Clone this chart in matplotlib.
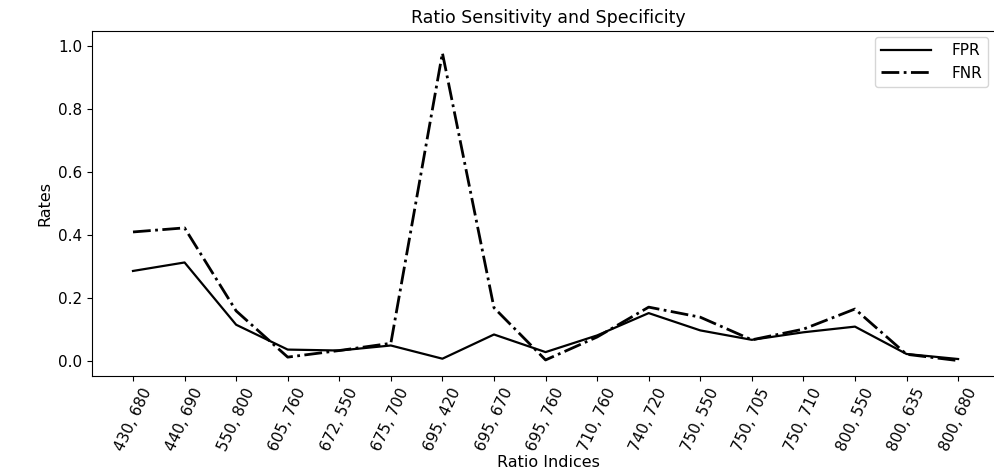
import numpy as np
import matplotlib
matplotlib.use('Agg')
import matplotlib.pyplot as plt

# pares de indices de las razones
ratio_labels = ['430, 680', '440, 690', '550, 800', '605, 760', '672, 550',
                '675, 700', '695, 420', '695, 670', '695, 760', '710, 760',
                '740, 720', '750, 550', '750, 705', '750, 710', '800, 550',
                '800, 635', '800, 680']
fpr = [0.285, 0.312, 0.114, 0.035, 0.032, 0.048, 0.006, 0.083, 0.027,
       0.080, 0.151, 0.096, 0.066, 0.090, 0.108, 0.021, 0.005]
fnr = [0.409, 0.422, 0.158, 0.011, 0.032, 0.055, 0.978, 0.168, 0.002,
       0.075, 0.170, 0.138, 0.066, 0.100, 0.164, 0.020, 0.000]

fig = plt.figure(figsize=(9.95, 4.72), dpi=100)
ax = fig.add_axes([92 / 995, 96 / 472, 912 / 995, 345 / 472])

x = np.arange(len(ratio_labels))
ax.plot(x, fpr, color='black', linestyle='-', linewidth=1.6, label='FPR')
ax.plot(x, fnr, color='black', linestyle='-.', linewidth=2.0, label='FNR')

ax.set_xticks(x)
ax.set_xticklabels(ratio_labels, rotation=65, fontsize=11)
ax.tick_params(axis='y', labelsize=11)
ax.set_xlim(-0.795, 16.89)
ax.set_ylim(-0.049, 1.048)

ax.set_title('Ratio Sensitivity and Specificity', fontsize=12.5)
ax.set_xlabel('Ratio Indices', fontsize=11.5, labelpad=1)
ax.set_ylabel('Rates', fontsize=11.5)
ax.legend(loc='upper right', fontsize=11, handlelength=3.3, handletextpad=1.3,
          bbox_to_anchor=(988 / 995, 1 - 37 / 472), bbox_transform=fig.transFigure,
          borderaxespad=0)

fig.savefig('out.png', dpi=100)
